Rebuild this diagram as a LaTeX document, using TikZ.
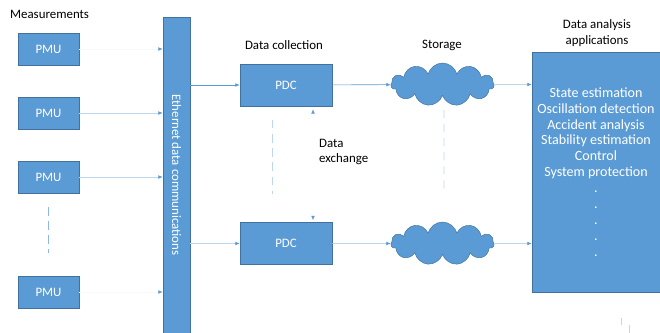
\documentclass[tikz,border=0pt]{standalone}
\usepackage{fontspec}
\setmainfont{Carlito}
\usetikzlibrary{shapes, shapes.symbols, arrows, arrows.meta, calc}

\definecolor{boxblue}{HTML}{5B9BD5}
\definecolor{boxedge}{HTML}{41719C}
\definecolor{paleblue}{HTML}{BDD7EE}

\tikzstyle{bloc} = [
    rectangle,
    fill = boxblue,
    draw = boxedge,
    text = white,
    text centered,
    line width = 0.5pt,
]
\tikzstyle{pmu} = [bloc, minimum width = 1.83cm, minimum height = 0.96cm]
\tikzstyle{pdc} = [bloc, minimum width = 2.76cm, minimum height = 1.26cm]
\tikzstyle{nuage} = [
    cloud,
    cloud puffs = 11,
    aspect = 2.4,
    fill = boxblue,
    draw = boxedge,
    minimum width = 3.09cm,
    minimum height = 1.29cm,
]
\tikzstyle{fleche} = [-{Latex[length = 1.3mm, width = 1.1mm, color = boxblue]}, line width = 0.5pt]
\tikzstyle{pointille} = [draw = paleblue, line width = 0.6pt, dash pattern = on 7pt off 5pt]

\begin{document}
\begin{tikzpicture} [x = 0.03cm, y = -0.03cm, node distance = 1.92cm, font = \fontsize{11}{13}\selectfont]
    \useasboundingbox (0, 0) rectangle (660, 333);

    \node (Mesures) [anchor = west] at (6, 14) {Measurements};
    \node (PMUa) [pmu] at (48.5, 49) {PMU};
    \node (PMUb) [pmu, below of = PMUa] {PMU};
    \node (PMUc) [pmu, below of = PMUb] {PMU};
    \node (PMUd) [pmu, below of = PMUc, yshift = -1.53cm] {PMU};

    \node (Ethernet) [bloc, minimum width = 0.81cm, minimum height = 9.48cm,
        label = {[rotate = -90, text = white]center:Ethernet data communications}] at (176.5, 175) {};

    \node (Collecte) at (284, 45) {Data collection};
    \node (PDCa) [pdc] at (286, 85) {PDC};
    \node (PDCb) [pdc] at (286, 243.5) {PDC};
    \node (Echange) [anchor = west, align = left] at (315, 152) {Data\\exchange};

    \node (Stockage) at (442, 45) {Storage};
    \node (Stocka) [nuage] at (442.5, 84.5) {};
    \node (Stockb) [nuage] at (442.5, 243.5) {};

    \node (Titre) [align = center] at (597, 33) {Data analysis\\applications};
    \node (Analyse) [bloc, align = center, minimum width = 3.84cm, minimum height = 7.2cm,
        font = \fontsize{12}{13.6}\selectfont] at (596, 172)
        {State estimation\\Oscillation detection\\Accident analysis\\Stability estimation\\Control\\System protection\\.\\.\\.\\.\\.};

    % PMU vers le bus
    \draw[fleche, draw = paleblue!15] (PMUa) -- (PMUa -| Ethernet.west);
    \draw[fleche, draw = paleblue] (PMUb) -- (PMUb -| Ethernet.west);
    \draw[fleche, draw = paleblue] (PMUc) -- (PMUc -| Ethernet.west);
    \draw[fleche, draw = paleblue!15] (PMUd) -- (PMUd -| Ethernet.west);
    \draw[pointille, draw = boxblue!70] ($(PMUc.south) + (0, 14)$) -- ($(PMUd.north) + (0, -23)$);

    % bus vers PDC
    \draw[fleche, draw = boxblue] (PDCa -| Ethernet.east) -- (PDCa);
    \draw[fleche, draw = paleblue] (PDCb -| Ethernet.east) -- (PDCb);

    % echange entre PDC
    \draw[{Latex[length = 1.3mm, width = 1.1mm, color = boxblue]}-{Latex[length = 1.3mm, width = 1.1mm, color = boxblue]}, draw = white, line width = 0.5pt]
        ($(PDCa.south) + (27, 3)$) -- ($(PDCb.north) + (27, -2)$);
    \draw[pointille] ($(PDCa.south west) + (33, 14)$) -- ($(PDCb.north west) + (33, -28)$);
    \draw[pointille] ($(Stocka.south) + (1.5, 14)$) -- ($(Stockb.north) + (1.5, -28)$);

    % PDC vers stockage
    \draw[fleche, draw = boxblue] (PDCa) -- (Stocka);
    \draw[fleche, draw = paleblue] (PDCb) -- (Stockb);

    % stockage vers applications
    \draw[fleche, draw = paleblue] (Stocka) -- (Stocka -| Analyse.west);
    \draw[fleche, draw = paleblue] (Stockb) -- (Stockb -| Analyse.west);

    \draw[paleblue, line width = 0.6pt] ($(Analyse.south) + (25, 26)$) -- ($(Analyse.south) + (25, 33)$);
    \draw[paleblue, line width = 0.6pt] ($(Analyse.south) + (33, 33)$) -- ($(Analyse.south) + (33, 41)$);
\end{tikzpicture}
\end{document}
